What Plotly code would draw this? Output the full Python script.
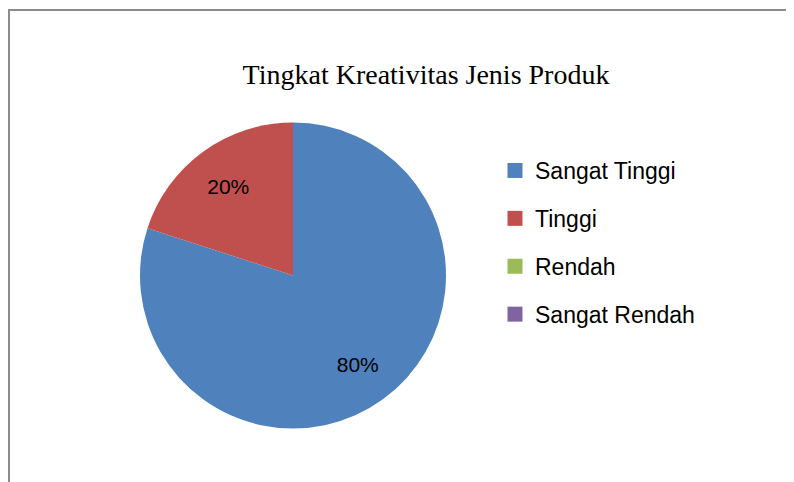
import plotly.graph_objects as go

title_text = "Tingkat Kreativitas Jenis Produk"
categories = ["Sangat Tinggi", "Tinggi", "Rendah", "Sangat Rendah"]
values = [80, 20, 0, 0]
colors = ["#4F81BD", "#C0504D", "#9BBB59", "#8064A2"]

total = sum(values)
labels_text = [f"{v / total:.0%}" if v else "" for v in values]

W, H = 794, 482
OFF = 8  # page body margin
pie_dom = dict(x=[(140 - OFF) / W, (446 - OFF) / W], y=[1 - (429 - OFF) / H, 1 - (122 - OFF) / H])

fig = go.Figure()
# filled pie
fig.add_trace(go.Pie(
    labels=categories,
    values=values,
    textinfo="none",
    marker=dict(colors=colors, line=dict(width=0)),
    sort=False,
    direction="clockwise",
    rotation=0,
    showlegend=False,
    hoverinfo="label+percent",
    domain=pie_dom,
))
# transparent ring carrying the percentage labels (places them at ~3/4 radius)
fig.add_trace(go.Pie(
    labels=categories,
    values=values,
    text=labels_text,
    textinfo="text",
    textposition="inside",
    insidetextorientation="horizontal",
    textfont=dict(family="Liberation Sans", size=21, color="#000000"),
    marker=dict(colors=["rgba(0,0,0,0)"] * len(values), line=dict(width=0)),
    hole=0.44,
    sort=False,
    direction="clockwise",
    rotation=0,
    showlegend=False,
    hoverinfo="skip",
    domain=pie_dom,
))

for name, c in zip(categories, colors):
    fig.add_trace(go.Scatter(
        x=[None], y=[None], mode="markers", name=name, legendgroup=name,
        marker=dict(symbol="square", size=15, color=c),
    ))

fig.update_layout(
    width=W, height=H,
    margin=dict(l=0, r=0, t=0, b=0),
    paper_bgcolor="white", plot_bgcolor="white",
    title=dict(text=title_text, x=(426 - OFF) / W, xanchor="center", y=1 - (74 - OFF) / H, yanchor="middle",
               font=dict(family="Liberation Serif", size=28, color="#000000")),
    xaxis=dict(visible=False), yaxis=dict(visible=False),
    legend=dict(x=(495 - OFF) / W, xanchor="left", y=1 - (149 - OFF) / H, yanchor="top",
                font=dict(family="Liberation Sans", size=23, color="#000000"),
                tracegroupgap=15, bgcolor="rgba(0,0,0,0)"),
    shapes=[dict(type="rect", xref="paper", yref="paper",
                 x0=(9 - OFF) / W, x1=1.05, y0=-0.05, y1=1 - (10 - OFF) / H,
                 line=dict(color="#8C8C8C", width=2), fillcolor="rgba(0,0,0,0)")],
)

fig.write_html("out.html")
